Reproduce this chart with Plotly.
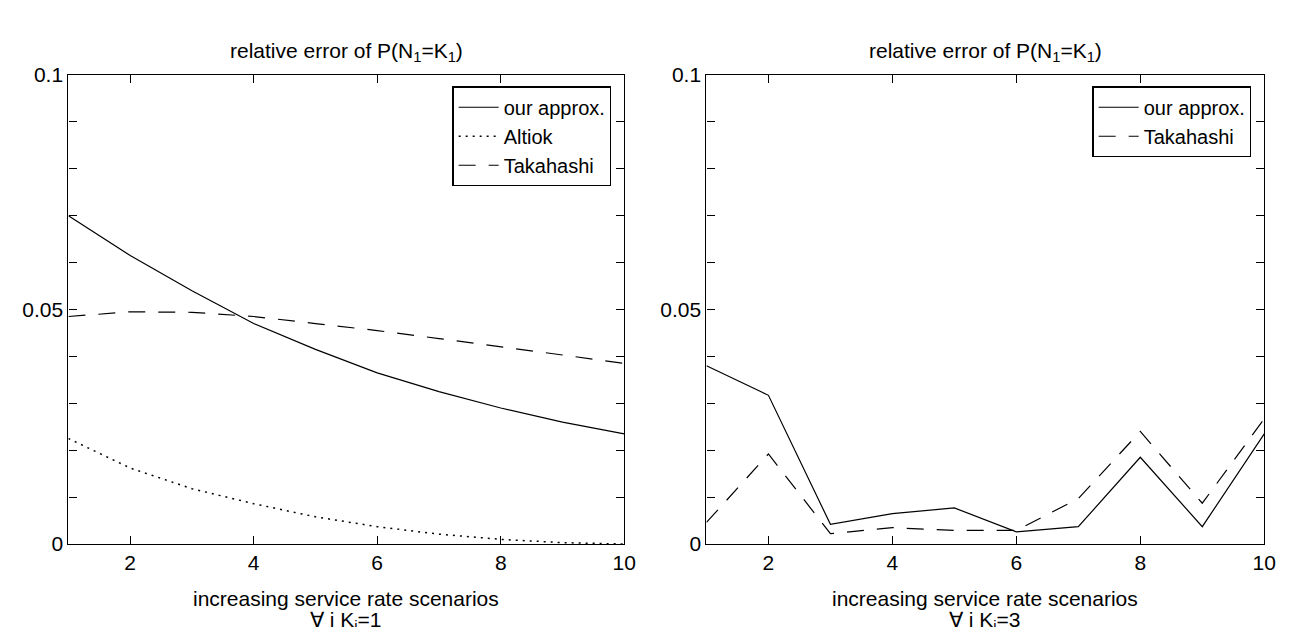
import plotly.graph_objects as go

scenarios = list(range(1, 11))

# Left panel: K_i = 1
left_ours = [0.0700, 0.0615, 0.0540, 0.0470, 0.0415, 0.0365, 0.0325, 0.0290, 0.0260, 0.0235]
left_altiok = [0.0225, 0.0162, 0.0118, 0.0086, 0.0058, 0.0037, 0.0021, 0.0010, 0.0003, 0.0000]
left_takahashi = [0.0485, 0.0495, 0.0494, 0.0485, 0.0470, 0.0455, 0.0438, 0.0421, 0.0403, 0.0385]

# Right panel: K_i = 3
right_ours = [0.0380, 0.0317, 0.0042, 0.0065, 0.0077, 0.0026, 0.0037, 0.0185, 0.0037, 0.0235]
right_takahashi = [0.0046, 0.0192, 0.0022, 0.0035, 0.0029, 0.0029, 0.0097, 0.0240, 0.0087, 0.0267]

title_text = "relative error of P(N<sub>1</sub>=K<sub>1</sub>)"
xtitle_line1 = "increasing service rate scenarios"
xtitle_left = "∀ i K<sub>i</sub>=1"
xtitle_right = "∀ i K<sub>i</sub>=3"

ytick_vals = [i / 100 for i in range(0, 11)]
ytick_text = ["0", "", "", "", "", "0.05", "", "", "", "", "0.1"]
xtick_vals = [2, 4, 6, 8, 10]

FONT = "Liberation Sans, Arial, sans-serif"
FS = 21
W, H = 1295, 627

L_X = (61, 622)
R_X = (705, 1268)
Y_PX = (57, 544)

fig = go.Figure()
fig.add_trace(go.Scatter(x=scenarios, y=left_ours, mode="lines", name="our approx.",
                         line=dict(color="black", width=1.2), xaxis="x", yaxis="y", legend="legend"))
fig.add_trace(go.Scatter(x=scenarios, y=left_altiok, mode="lines", name="Altiok",
                         line=dict(color="black", width=1.5, dash="2px,5px"), xaxis="x", yaxis="y", legend="legend"))
fig.add_trace(go.Scatter(x=scenarios, y=left_takahashi, mode="lines", name="Takahashi",
                         line=dict(color="black", width=1.2, dash="17px,13px"), xaxis="x", yaxis="y", legend="legend"))
fig.add_trace(go.Scatter(x=scenarios, y=right_ours, mode="lines", name="our approx.",
                         line=dict(color="black", width=1.2), xaxis="x2", yaxis="y2", legend="legend2"))
fig.add_trace(go.Scatter(x=scenarios, y=right_takahashi, mode="lines", name="Takahashi",
                         line=dict(color="black", width=1.2, dash="17px,13px"), xaxis="x2", yaxis="y2", legend="legend2"))

ydom = [1 - Y_PX[1] / H, 1 - Y_PX[0] / H]
axis_common = dict(showline=True, linecolor="black", linewidth=1.3, mirror="ticks", ticks="inside",
                   ticklen=8, tickcolor="black", tickwidth=1, showgrid=False, zeroline=False,
                   tickfont=dict(size=FS, color="black", family=FONT))

legend_common = dict(xanchor="right", yanchor="top", bordercolor="black", borderwidth=1.3,
                     bgcolor="white", font=dict(size=20, family=FONT, color="black"),
                     tracegroupgap=0, itemwidth=40)

fig.update_layout(
    width=W, height=H,
    margin=dict(l=0, r=0, t=0, b=0),
    paper_bgcolor="white", plot_bgcolor="white",
    font=dict(family=FONT, color="black", size=FS),
    xaxis=dict(domain=[L_X[0] / W, L_X[1] / W], range=[1, 10], tickvals=xtick_vals, anchor="y",
               **axis_common),
    yaxis=dict(domain=ydom, range=[0, 0.1], tickvals=ytick_vals, ticktext=ytick_text, anchor="x",
               **axis_common),
    xaxis2=dict(domain=[R_X[0] / W, R_X[1] / W], range=[1, 10], tickvals=xtick_vals, anchor="y2",
                **axis_common),
    yaxis2=dict(domain=ydom, range=[0, 0.1], tickvals=ytick_vals, ticktext=ytick_text, anchor="x2",
                **axis_common),
    legend=dict(x=609 / W, y=1 - 69 / H, **legend_common),
    legend2=dict(x=1255 / W, y=1 - 69 / H, **legend_common),
    showlegend=True,
)

annotations = []
for (x0, x1), xt in [(L_X, xtitle_left), (R_X, xtitle_right)]:
    cx = (x0 + x1) / 2 / W
    annotations.append(dict(text=title_text, x=cx, y=1 - 33 / H, xref="paper", yref="paper",
                            showarrow=False, font=dict(size=FS, family=FONT), xanchor="center", yanchor="middle"))
    annotations.append(dict(text=xtitle_line1, x=cx, y=1 - 601 / H, xref="paper", yref="paper",
                            showarrow=False, font=dict(size=FS, family=FONT), xanchor="center", yanchor="middle"))
    annotations.append(dict(text=xt, x=cx, y=1 - 624 / H, xref="paper", yref="paper",
                            showarrow=False, font=dict(size=FS, family=FONT), xanchor="center", yanchor="middle"))
fig.update_layout(annotations=annotations)

fig.write_html("out.html")
